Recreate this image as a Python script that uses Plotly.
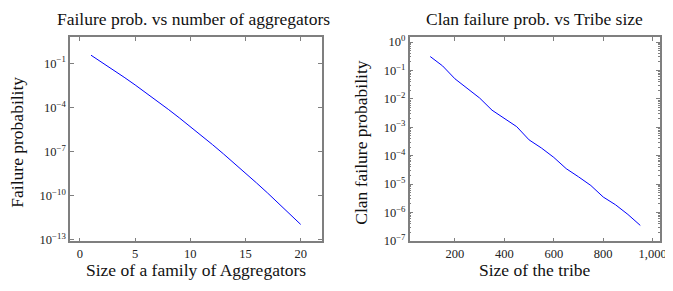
import plotly.graph_objects as go

# Left chart data
agg_sizes = list(range(1, 21))
agg_fail = [3.55e-1, 1.16e-1, 3.69e-2, 1.13e-2, 3.38e-3, 9.77e-4, 2.73e-4, 7.45e-5, 1.96e-5, 5.00e-6,
            1.245e-6, 2.99e-7, 6.95e-8, 1.58e-8, 3.46e-9, 7.33e-10, 1.52e-10, 3.03e-11, 5.86e-12, 1.11e-12]

# Right chart data
tribe_sizes = [100, 150, 200, 250, 300, 350, 400, 450, 500, 550, 600, 650, 700, 750, 800, 850, 900, 950]
clan_fail = [3.1e-1, 1.45e-1, 5.1e-2, 2.3e-2, 1.07e-2, 4.0e-3, 2.1e-3, 1.05e-3, 3.6e-4, 1.86e-4,
             8.7e-5, 3.5e-5, 1.8e-5, 8.9e-6, 3.5e-6, 1.86e-6, 8.5e-7, 3.5e-7]

left_xticks = [0, 5, 10, 15, 20]
left_yexp = [-1, -4, -7, -10, -13]
right_xticks = [200, 400, 600, 800, 1000]
right_xlabels = ["200", "400", "600", "800", "1,000"]
right_yexp = [0, -1, -2, -3, -4, -5, -6, -7]


def pw(e):
    return "10<sup>%s</sup>" % (str(e).replace("-", "−"))


FONT = "Liberation Serif"
AX = "#7f7f7f"
OFF = 8  # default page body margin
W, H = 673 - OFF, 291 - OFF


def px(x):
    return (x - OFF) / W


def py(y):
    return 1 - (y - OFF) / H


fig = go.Figure()
fig.add_trace(go.Scatter(x=agg_sizes, y=agg_fail, mode="lines",
                         line=dict(color="#0000ff", width=1), xaxis="x", yaxis="y"))
fig.add_trace(go.Scatter(x=tribe_sizes, y=clan_fail, mode="lines",
                         line=dict(color="#0000ff", width=1), xaxis="x2", yaxis="y2"))

common = dict(showgrid=False, zeroline=False, showline=True, linecolor=AX, linewidth=1.5,
              ticks="inside", ticklen=4, tickcolor=AX, tickwidth=1, mirror="ticks",
              ticklabeloverflow="allow",
              tickfont=dict(family=FONT, size=12.5, color="#222"))

minor_vals = []
for e in range(-8, 1):
    for m in range(2, 10):
        minor_vals.append(m * 10.0 ** e)

TF = dict(family=FONT, size=17.5, color="#111")

fig.update_layout(
    width=W, height=H, margin=dict(l=0, r=0, t=0, b=0),
    paper_bgcolor="white", plot_bgcolor="white", showlegend=False,
    font=dict(family=FONT, color="#111"),
    xaxis=dict(domain=[px(70.7), px(325)], range=[-0.9, 21.9], tickmode="array",
               tickvals=left_xticks, anchor="y", **common),
    yaxis=dict(domain=[py(246.7), py(34.3)], type="log", range=[-13.11, 0.77], tickmode="array",
               tickvals=[10.0 ** e for e in left_yexp], ticktext=[pw(e) for e in left_yexp],
               anchor="x", **common),
    xaxis2=dict(domain=[px(414), px(667)], range=[17, 1030], tickmode="array",
                tickvals=right_xticks, ticktext=right_xlabels, anchor="y2", **common),
    yaxis2=dict(domain=[py(246.7), py(34.3)], type="log", range=[-7.02, 0.17], tickmode="array",
                tickvals=[10.0 ** e for e in right_yexp], ticktext=[pw(e) for e in right_yexp],
                anchor="x2",
                minor=dict(tickmode="array", tickvals=minor_vals, ticks="inside", ticklen=2,
                           tickcolor=AX),
                **common),
    annotations=[
        dict(text="Failure prob. vs number of aggregators", x=px(195), y=py(15),
             xref="paper", yref="paper", showarrow=False, xanchor="center", yanchor="middle", font=TF),
        dict(text="Clan failure prob. vs Tribe size", x=px(540), y=py(15),
             xref="paper", yref="paper", showarrow=False, xanchor="center", yanchor="middle", font=TF),
        dict(text="Size of a family of Aggregators", x=px(197.5), y=py(276.5),
             xref="paper", yref="paper", showarrow=False, xanchor="center", yanchor="middle", font=TF),
        dict(text="Size of the tribe", x=px(541), y=py(276.5),
             xref="paper", yref="paper", showarrow=False, xanchor="center", yanchor="middle", font=TF),
        dict(text="Failure probability", x=px(17), y=py(143), textangle=-90,
             xref="paper", yref="paper", showarrow=False, xanchor="center", yanchor="middle", font=TF),
        dict(text="Clan failure probability", x=px(364.7), y=py(143), textangle=-90,
             xref="paper", yref="paper", showarrow=False, xanchor="center", yanchor="middle", font=TF),
    ],
)

fig.write_html("out.html")
